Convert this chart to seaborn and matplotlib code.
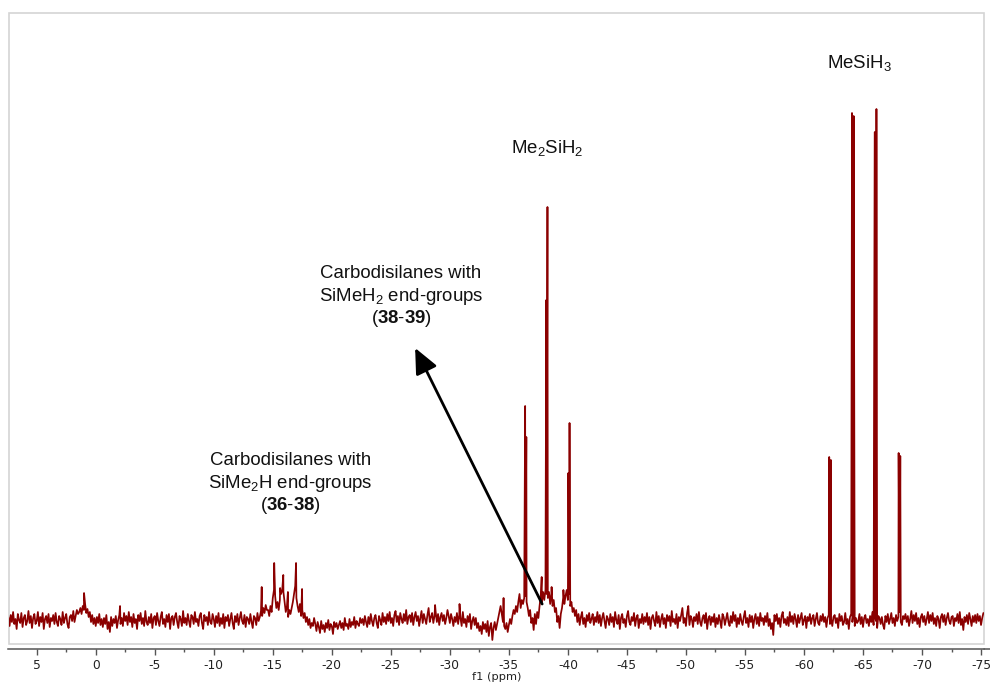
import numpy as np
import pandas as pd
import matplotlib
matplotlib.use("Agg")
import matplotlib.pyplot as plt
import seaborn as sns
from matplotlib.patches import Rectangle
from matplotlib.lines import Line2D
from matplotlib.ticker import MultipleLocator

# ---------------- data ----------------
# baseline / noise trace, one value every 0.1 ppm starting at 7.4 ppm
baseline_start = 7.4
baseline_step = 0.1
baseline = [
    3, -6, 5, -2, 8, -4, 1, -9, 6, 0, -3, 7, -7, 2, 5, -5, -1, 9, -3, 4,          # 7.4
    -8, 2, 6, -4, -1, 8, -6, 3, -2, 7, -9, 1, 4, -3, 6, -7, 2, -1, 5, -4,         # 5.4
    7, -2, -6, 4, 1, -5, 8, -3, 2, 6, -4, -8, 3, 5, -1, 9, -2, 4, 10, 6,          # 3.4
    8, 12, 6, 14, 10, 16, 7, 11, 3, 8, -2, 5, -4, 2, -6, 3, -3, 6, -5, 1,         # 1.4
    -7, 2, -4, 5, -9, -2, -12, 3, -6, 1, -3, 4, -8, 0, 5, -4, 2, -6, 7, -1,       # -0.6
    4, -5, 8, -2, 3, -7, 6, -3, 1, -9, 5, -1, 7, -4, 2, -6, 9, -2, -5, 3,         # -2.6
    -3, 6, -8, 2, 4, -5, 7, -1, -6, 3, 8, -4, 1, -7, 5, -2, 6, -9, 2, 4,          # -4.6
    -5, 3, 7, -2, -8, 4, 1, -6, 9, -3, 2, -5, 6, -1, -7, 5, 3, -4, 8, -2,         # -6.6
    1, -6, 4, 7, -3, -9, 5, -1, 3, -5, 8, -2, -4, 6, 1, -7, 4, -3, 7, -6,         # -8.6
    2, -4, 6, -8, 3, -1, 5, -6, 1, 7, -3, -9, 4, -2, 6, -5, 2, 8, -1, -4,         # -10.6
    5, -7, 3, 1, -4, 6, -2, -8, 4, 2, -5, 7, -1, 3, 9, 4, 12, 7, 15, 10,          # -12.6
    10, 4, 14, 8, 22, 30, 24, 12, 18, 10, 20, 26, 30, 28, 18, 8, 14, 3, 10, 6,    # -14.6
    12, 18, 26, 34, 22, 14, 8, 16, 4, 10, 2, 7, -2, 3, -5, 1, -8, -3, -6, 2,      # -16.6
    -4, -11, -2, -7, -13, -1, -9, -5, -12, -3, -8, 0, -10, -4, -6, -14, -2, -7, -3, -9,  # -18.6
    -5, -1, -8, -3, -10, 2, -6, -4, -9, 1, -7, -2, -5, 3, -8, -1, -4, -6, 2, -3,  # -20.6
    1, -5, 4, -2, -7, 3, -4, 6, -1, -6, 2, 5, -3, -8, 4, 0, -5, 7, -2, 3,         # -22.6
    -4, 6, -1, 8, -3, 2, -6, 5, 9, -2, 4, -5, 7, 1, -3, 6, -1, 10, -4, 3,         # -24.6
    5, -2, 7, -5, 3, 8, -1, 4, -6, 2, 9, -3, 6, 1, -4, 5, 12, -2, 3, 7,           # -26.6
    -3, 4, 8, -2, 6, -5, 3, 7, -1, 5, -4, 2, 10, 4, -3, 6, 1, -6, 3, -2,          # -28.6
    7, -4, 5, 2, -6, 8, -3, 1, -7, 4, -2, 6, -9, -1, 3, -5, 2, -8, -3, -11,       # -30.6
    -6, -14, -2, -9, -4, -12, -1, -16, -7, -3, -20, -8, -2, -10, -4, 2, 8, 14, 6, -2,  # -32.6
    -6, -9, -3, -12, -5, 1, -4, 4, 10, 6, 14, 8, 18, 26, 12, 20, 16, 22, 24, 18,  # -34.6
    12, 4, 10, -3, 2, -10, 6, -4, 8, 2, 14, 24, 18, 28, 20, 30, 26, 22, 28, 16,   # -36.6
    26, 14, 20, 8, 12, -2, 4, -8, 6, 12, 22, 16, 24, 30, 20, 26, 14, 18, 8, 12,   # -38.6
    4, 10, -2, 6, -5, 3, 8, -4, 2, -7, 5, -1, 7, -3, 1, 6, -5, 3, -2, 8,          # -40.6
    -3, 5, -6, 2, 7, -1, -8, 4, 1, -5, 6, -2, 3, -7, 8, 0, -4, 5, -9, 2,          # -42.6
    6, -3, 1, -7, 4, 9, -2, -5, 3, -1, 7, -6, 2, 5, -8, 1, -3, 6, -4, 3,          # -44.6
    -2, 7, -5, 3, -9, 2, 5, -1, -6, 8, -3, 4, -7, 1, 6, -4, 2, -8, 5, -1,         # -46.6
    4, -6, 9, -2, 1, -4, 6, -8, 3, -1, 5, 12, -3, 2, -6, 7, 14, -5, 4, 1,         # -48.6
    -7, 3, -1, 6, -4, 8, -2, -6, 2, 5, -3, 7, -9, 1, 4, -5, 3, -2, 6, -7,         # -50.6
    2, -4, 5, -1, -8, 6, 3, -5, 1, 7, -2, -6, 4, -3, 8, -1, 5, -7, 2, -4,         # -52.6
    6, -1, -5, 3, 9, -3, 2, -7, 5, -2, 4, -8, 1, 6, -4, 3, -6, 7, -1, 2,          # -54.6
    -5, 4, -2, 7, -6, 1, -9, -3, -15, 5, -1, 6, -4, 2, -7, 4, 8, -3, 1, -5,       # -56.6
    3, -6, 8, -2, 4, -4, 6, 1, -7, 5, -3, 2, 7, -5, 0, 4, -8, 3, -1, 6,           # -58.6
    -4, 2, 5, -6, 1, 7, -3, -5, 4, -1, 6, -2, 3, -7, 2, 5, -4, 1, -6, 3,          # -60.6
    5, -3, 2, -8, 6, -1, 4, -5, -2, 7, -4, 1, -9, 3, 6, -2, 8, -6, 2, -3,         # -62.6
    -1, 6, -4, 3, -7, 2, 5, -3, 1, -6, 4, -2, 8, -5, 3, -1, -8, 4, 2, -4,         # -64.6
    3, -5, -9, 4, -2, 6, -4, 1, 7, -3, 2, -6, 5, -1, 3, 8, -2, -5, 4, 1,          # -66.6
    6, -2, 4, -6, 1, 9, -3, 5, -1, 7, -4, 2, -7, 3, 6, -2, 4, -5, 1, 8,           # -68.6
    -3, 5, -1, 7, -4, 2, -6, 4, 1, -8, 3, 6, -2, 5, -5, 2, 7, -1, -4, 3,          # -70.6
    4, -6, 2, -1, 6, -3, 8, -5, 1, -10, 3, -2, 5, -4, 7, 1, -6, 4, -2, 5,         # -72.6
    -3, 6, -1, 4, -5, 2, 7,                                                     # -74.6
]

# resonance lines (ppm, intensity)
peak_ppm = [0.99, -2.06,
            -14.06, -15.12, -15.62, -15.89, -16.28, -16.97, -17.48,
            -28.75, -30.82, -34.55,
            -36.38, -36.48, -37.78, -38.17, -38.27, -38.62, -39.62, -40.04, -40.14,
            -62.14, -62.28, -64.07, -64.21, -66.00, -66.14, -68.02, -68.16]
peak_height = [27, 14,
               33, 57, 32, 45, 28, 57, 31,
               15, 16, 22,
               214, 183, 43, 320, 413, 33, 30, 147, 197,
               163, 160, 507, 504, 488, 511, 167, 164]

x_ticks = [5, 0, -5, -10, -15, -20, -25, -30, -35, -40, -45, -50, -55, -60, -65, -70, -75]
x_tick_labels = [str(t) for t in x_ticks]

# ---------------- build table ----------------
base_ppm = baseline_start - baseline_step * np.arange(len(baseline))
df = pd.DataFrame({
    "ppm": np.concatenate([base_ppm, np.array(peak_ppm)]),
    "intensity": np.concatenate([np.array(baseline, float), np.array(peak_height, float)]),
}).sort_values("ppm").reset_index(drop=True)

# ---------------- style ----------------
sns.set_style("white")
plt.rcParams["font.family"] = ["DejaVu Sans"]
plt.rcParams["axes.unicode_minus"] = False
plt.rcParams["mathtext.fontset"] = "custom"
plt.rcParams["mathtext.rm"] = "Liberation Sans"
plt.rcParams["mathtext.it"] = "Liberation Sans:italic"
plt.rcParams["mathtext.bf"] = "Liberation Sans:bold"

W, H = 990, 684
fig = plt.figure(figsize=(W / 100, H / 100), dpi=100)
fig.patch.set_facecolor("white")
ax = fig.add_axes([8.5 / W, (H - 643.5) / H, (983.5 - 8.5) / W, (643.5 - 13.3) / H])

sns.lineplot(data=df, x="ppm", y="intensity", ax=ax, color="#8B0000",
             linewidth=1.25, estimator=None, sort=True)

ax.set_xlim(7.39, -75.21)
ax.set_ylim(-23.5, 606.7)
ax.set_yticks([])
ax.set_ylabel("")

ax.set_xticks(x_ticks)
ax.set_xticklabels(x_tick_labels)
ax.xaxis.set_minor_locator(MultipleLocator(2.5))
ax.tick_params(axis="x", which="major", direction="out", length=4.3, width=1.0,
               color="#555555", labelsize=8.8, labelcolor="#222222", pad=3.5, bottom=True)
ax.tick_params(axis="x", which="minor", direction="out", length=2.2, width=1.0,
               color="#555555", bottom=True)
ax.set_xlabel("")
fig.text(497 / W, 1 - 679.5 / H, "f1 (ppm)", fontsize=8.2, color="#222222",
         ha="center", va="baseline")

for s in ["left", "right", "top"]:
    ax.spines[s].set_visible(False)
ax.spines["bottom"].set_position(("outward", 3.6))
ax.spines["bottom"].set_color("#555555")
ax.spines["bottom"].set_linewidth(1.1)

# light grey frame around the plotting area
ax.add_patch(Rectangle((0, 0), 1, 1, transform=ax.transAxes, fill=False,
                       edgecolor="#d4d4d4", linewidth=1.2, clip_on=False, zorder=0))
# axis line continues slightly past the frame
fig.add_artist(Line2D([983.5 / W, 990 / W], [(H - 648.5) / H] * 2,
                      color="#555555", linewidth=1.1))

# ---------------- annotations ----------------
tf = dict(family="Liberation Sans", fontsize=13.4, color="#111111",
          ha="center", va="baseline")
ax.text(-64.73, 551.7, r"MeSiH$_3$", **tf)
ax.text(-38.22, 467.3, r"Me$_2$SiH$_2$", **tf)

ax.text(-25.87, 341.7, "Carbodisilanes with", **tf)
ax.text(-25.87, 319.2, r"SiMeH$_2$ end-groups", **tf)
ax.text(-25.87, 296.7, r"($\mathbf{38}$-$\mathbf{39}$)", **tf)

ax.text(-16.47, 155.0, "Carbodisilanes with", **tf)
ax.text(-16.47, 132.5, r"SiMe$_2$H end-groups", **tf)
ax.text(-16.47, 110.0, r"($\mathbf{36}$-$\mathbf{38}$)", **tf)

ax.annotate("", xy=(-27.06, 272), xytext=(-37.82, 16),
            arrowprops=dict(arrowstyle="-|>,head_length=0.55,head_width=0.25",
                            color="black", lw=2.0, mutation_scale=28,
                            shrinkA=0, shrinkB=0))

fig.savefig("out.png", dpi=100, facecolor="white")
